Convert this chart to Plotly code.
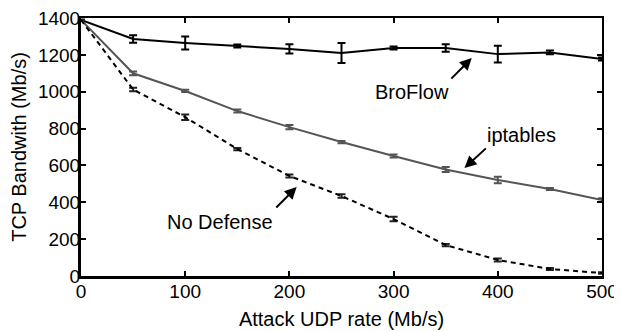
import plotly.graph_objects as go

x_rate = [0, 50, 100, 150, 200, 250, 300, 350, 400, 450, 500]
broflow = [1390, 1286, 1264, 1248, 1232, 1210, 1237, 1237, 1204, 1213, 1177]
broflow_err = [0, 20, 35, 8, 25, 54, 8, 20, 46, 10, 8]
iptables = [1390, 1100, 1004, 895, 808, 727, 651, 578, 521, 472, 412]
iptables_err = [0, 10, 6, 8, 12, 6, 8, 14, 18, 6, 10]
nodef = [1390, 1012, 862, 689, 543, 434, 309, 168, 87, 38, 16]
nodef_err = [0, 10, 15, 6, 8, 10, 12, 6, 8, 6, 4]

FONT = "Liberation Sans, Arial, Helvetica, sans-serif"
GRAY = "#555555"

fig = go.Figure()
fig.add_trace(go.Scatter(x=x_rate, y=broflow, mode="lines", line=dict(color="black", width=2),
                         error_y=dict(type="data", array=broflow_err, color="black", thickness=2, width=4)))
fig.add_trace(go.Scatter(x=x_rate, y=iptables, mode="lines", line=dict(color=GRAY, width=2),
                         error_y=dict(type="data", array=iptables_err, color=GRAY, thickness=2, width=4)))
fig.add_trace(go.Scatter(x=x_rate, y=nodef, mode="lines", line=dict(color="black", width=2, dash="5px,4px"),
                         error_y=dict(type="data", array=nodef_err, color="#222222", thickness=2, width=4)))
# invisible trace for mirrored thin top/right axes
fig.add_trace(go.Scatter(x=[0], y=[0], xaxis="x2", yaxis="y2", mode="markers",
                         marker=dict(opacity=0), hoverinfo="skip"))

def ann(text, tx, ty, hx, hy, lx, ly):
    fig.add_annotation(x=hx, y=hy, ax=tx, ay=ty, axref="x", ayref="y", xref="x", yref="y",
                       showarrow=True, arrowhead=2, arrowsize=1.2, arrowwidth=2, arrowcolor="black", text="")
    fig.add_annotation(x=lx, y=ly, xref="x", yref="y", text=text, showarrow=False,
                       font=dict(family=FONT, size=20, color="black"))

ann("BroFlow", 354, 1063, 375, 1183, 318, 998)
ann("iptables", 390, 700, 368, 586, 423, 765)
ann("No Defense", 186, 364, 207, 483, 133, 293)

fig.update_layout(
    template="none",
    width=614, height=323,
    margin=dict(l=73, r=20, t=10, b=55),
    plot_bgcolor="white", paper_bgcolor="white",
    showlegend=False,
    font=dict(family=FONT, size=19, color="black"),
    xaxis=dict(range=[0, 500], tickvals=[0, 100, 200, 300, 400, 500], ticks="inside", ticklen=5,
               tickwidth=2, tickcolor="black", showline=True, linewidth=3, linecolor="black",
               showgrid=False, zeroline=False, ticklabelstandoff=-4, automargin=False,
               ticklabeloverflow="allow",
               title=dict(text="Attack UDP rate (Mb/s)", font=dict(size=20), standoff=12)),
    yaxis=dict(range=[0, 1400], tickvals=[0, 200, 400, 600, 800, 1000, 1200, 1400], ticks="inside",
               ticklen=5, tickwidth=2, tickcolor="black", showline=True, linewidth=3, linecolor="black",
               showgrid=False, zeroline=False, ticklabelstandoff=-6, automargin=False,
               ticklabeloverflow="allow",
               title=dict(text="TCP Bandwith (Mb/s)", font=dict(size=20), standoff=7)),
    xaxis2=dict(range=[0, 500], overlaying="x", side="top", tickvals=[0, 100, 200, 300, 400, 500],
                ticks="inside", ticklen=5, tickwidth=2, tickcolor="black", showticklabels=False,
                showline=True, linewidth=2, linecolor="black", showgrid=False, zeroline=False,
                automargin=False),
    yaxis2=dict(range=[0, 1400], overlaying="y", side="right",
                tickvals=[0, 200, 400, 600, 800, 1000, 1200, 1400],
                ticks="inside", ticklen=5, tickwidth=2, tickcolor="black", showticklabels=False,
                showline=True, linewidth=2, linecolor="black", showgrid=False, zeroline=False,
                automargin=False),
)

fig.write_html("out.html")
